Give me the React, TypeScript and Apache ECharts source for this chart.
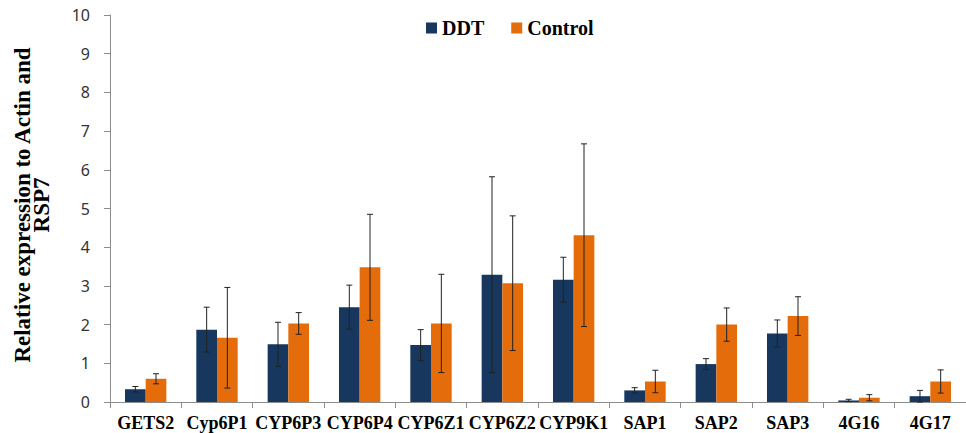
import React, { useEffect, useRef } from "react";
import * as echarts from "echarts";

const categories = ["GETS2", "Cyp6P1", "CYP6P3", "CYP6P4", "CYP6Z1", "CYP6Z2", "CYP9K1", "SAP1", "SAP2", "SAP3", "4G16", "4G17"];
const ddtValues = [0.33, 1.87, 1.49, 2.45, 1.47, 3.29, 3.16, 0.3, 0.98, 1.77, 0.04, 0.15];
const ddtErrors = [0.07, 0.58, 0.57, 0.57, 0.4, 2.53, 0.58, 0.07, 0.14, 0.35, 0.03, 0.15];
const controlValues = [0.6, 1.66, 2.03, 3.48, 2.03, 3.07, 4.31, 0.53, 2.0, 2.22, 0.11, 0.53];
const controlErrors = [0.13, 1.3, 0.28, 1.37, 1.27, 1.74, 2.36, 0.29, 0.43, 0.5, 0.08, 0.3];
const yTicks = [0, 1, 2, 3, 4, 5, 6, 7, 8, 9, 10];

const serif = "'Liberation Serif', 'Times New Roman', serif";

function errorSeries(name: string, values: number[], errors: number[], side: number) {
  return {
    type: "custom",
    name: name + " error",
    z: 10,
    silent: true,
    data: values.map((v, i) => [i, v, errors[i]]),
    encode: { x: 0, y: 1 },
    renderItem: (params: any, api: any) => {
      const idx = api.value(0);
      const v = api.value(1);
      const e = api.value(2);
      const band = api.size([1, 0])[0];
      const off = side * band * 0.145;
      const top = api.coord([idx, v + e]);
      const bot = api.coord([idx, Math.max(0, v - e)]);
      const x = top[0] + off;
      const cap = 3;
      const style = { stroke: "#222", lineWidth: 1 };
      return {
        type: "group",
        children: [
          { type: "line", shape: { x1: x, y1: top[1], x2: x, y2: bot[1] }, style },
          { type: "line", shape: { x1: x - cap, y1: top[1], x2: x + cap, y2: top[1] }, style },
          { type: "line", shape: { x1: x - cap, y1: bot[1], x2: x + cap, y2: bot[1] }, style },
        ],
      };
    },
  };
}

export default function App() {
  const ref = useRef<HTMLDivElement>(null);
  useEffect(() => {
    if (!ref.current) return;
    const chart = echarts.init(ref.current, null, { renderer: "svg" });
    chart.setOption({
      animation: false,
      backgroundColor: "#ffffff",
      grid: { left: 110, right: -7, top: 15, bottom: 31, containLabel: false },
      legend: {
        data: ["DDT", "Control"],
        left: 426,
        top: 18,
        padding: 0,
        itemWidth: 11,
        itemHeight: 11,
        itemGap: 27,
        icon: "rect",
        textStyle: { fontFamily: serif, fontWeight: "bold", fontSize: 20, color: "#000" },
      },
      graphic: [
        {
          type: "text",
          x: 32,
          y: 205,
          rotation: Math.PI / 2,
          style: {
            text: "Relative expression to Actin and\nRSP7",
            font: "bold 23px " + serif,
            fill: "#000",
            textAlign: "center",
            textVerticalAlign: "middle",
            lineHeight: 19,
          },
        },
      ],
      xAxis: {
        type: "category",
        data: categories,
        axisLine: { lineStyle: { color: "#8c8c8c", width: 1 } },
        axisTick: { show: true, length: 6, lineStyle: { color: "#8c8c8c" } },
        axisLabel: {
          interval: 0,
          margin: 12,
          fontFamily: serif,
          fontWeight: "bold",
          fontSize: 18,
          color: "#000",
        },
      },
      yAxis: {
        type: "value",
        min: yTicks[0],
        max: yTicks[yTicks.length - 1],
        interval: 1,
        axisLine: { show: true, lineStyle: { color: "#8c8c8c", width: 1 } },
        axisTick: { show: true, length: 6, lineStyle: { color: "#8c8c8c" } },
        splitLine: { show: false },
        axisLabel: {
          margin: 20,
          fontFamily: "'Noto Sans', sans-serif",
          fontSize: 16,
          color: "#333",
        },
      },
      series: [
        {
          name: "DDT",
          type: "bar",
          data: ddtValues,
          itemStyle: { color: "#17375E" },
          barGap: "0%",
          barCategoryGap: "42%",
        },
        {
          name: "Control",
          type: "bar",
          data: controlValues,
          itemStyle: { color: "#E46C0A" },
          barGap: "0%",
          barCategoryGap: "42%",
        },
        errorSeries("DDT", ddtValues, ddtErrors, -1),
        errorSeries("Control", controlValues, controlErrors, 1),
      ],
    });
    return () => chart.dispose();
  }, []);
  return (
    <div
      ref={ref}
      style={{ position: "fixed", left: 0, top: 0, width: 966, height: 433 }}
    />
  );
}
